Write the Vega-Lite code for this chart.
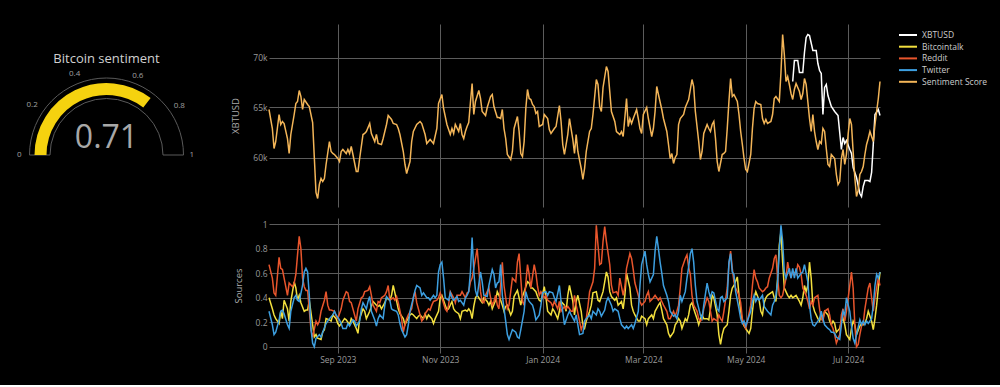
{
"$schema": "https://vega.github.io/schema/vega-lite/v6.json",
"usermeta": {"embedOptions": {"actions": false}},
"background": "#000000",
"padding": {"left": 0, "top": 24, "right": 14, "bottom": 21},
"spacing": 17,
"datasets": {
"s": [{"d":"2023-07-22","v":64800},{"d":"2023-07-24","v":62900},{"d":"2023-07-25","v":60900},{"d":"2023-07-26","v":61600},{"d":"2023-07-28","v":64300},{"d":"2023-07-29","v":63300},{"d":"2023-07-30","v":63600},{"d":"2023-07-31","v":63400},{"d":"2023-08-02","v":61900},{"d":"2023-08-03","v":60400},{"d":"2023-08-04","v":62300},{"d":"2023-08-06","v":64300},{"d":"2023-08-07","v":65400},{"d":"2023-08-08","v":65600},{"d":"2023-08-09","v":66700},{"d":"2023-08-10","v":66100},{"d":"2023-08-11","v":64800},{"d":"2023-08-12","v":65800},{"d":"2023-08-14","v":65300},{"d":"2023-08-15","v":65100},{"d":"2023-08-17","v":63500},{"d":"2023-08-18","v":60000},{"d":"2023-08-19","v":56500},{"d":"2023-08-20","v":55900},{"d":"2023-08-21","v":57300},{"d":"2023-08-22","v":57900},{"d":"2023-08-23","v":57600},{"d":"2023-08-24","v":57900},{"d":"2023-08-25","v":59300},{"d":"2023-08-27","v":61600},{"d":"2023-08-28","v":60600},{"d":"2023-08-29","v":60400},{"d":"2023-08-30","v":60300},{"d":"2023-09-01","v":59900},{"d":"2023-09-02","v":59600},{"d":"2023-09-03","v":60600},{"d":"2023-09-04","v":60800},{"d":"2023-09-06","v":60400},{"d":"2023-09-07","v":60800},{"d":"2023-09-08","v":60400},{"d":"2023-09-09","v":61100},{"d":"2023-09-10","v":60300},{"d":"2023-09-12","v":58600},{"d":"2023-09-13","v":58600},{"d":"2023-09-14","v":59900},{"d":"2023-09-16","v":62300},{"d":"2023-09-17","v":62400},{"d":"2023-09-18","v":62600},{"d":"2023-09-20","v":63400},{"d":"2023-09-21","v":62400},{"d":"2023-09-23","v":61600},{"d":"2023-09-24","v":62300},{"d":"2023-09-25","v":61400},{"d":"2023-09-27","v":61300},{"d":"2023-09-28","v":61900},{"d":"2023-09-30","v":63300},{"d":"2023-10-01","v":64200},{"d":"2023-10-03","v":63800},{"d":"2023-10-04","v":63400},{"d":"2023-10-06","v":63300},{"d":"2023-10-07","v":62900},{"d":"2023-10-08","v":62300},{"d":"2023-10-10","v":60600},{"d":"2023-10-11","v":59300},{"d":"2023-10-12","v":58400},{"d":"2023-10-14","v":59600},{"d":"2023-10-15","v":61600},{"d":"2023-10-16","v":62600},{"d":"2023-10-18","v":63300},{"d":"2023-10-20","v":63600},{"d":"2023-10-21","v":63400},{"d":"2023-10-23","v":62300},{"d":"2023-10-24","v":61400},{"d":"2023-10-26","v":61800},{"d":"2023-10-27","v":61600},{"d":"2023-10-28","v":61400},{"d":"2023-10-30","v":62900},{"d":"2023-10-31","v":65400},{"d":"2023-11-02","v":66300},{"d":"2023-11-03","v":64900},{"d":"2023-11-05","v":63300},{"d":"2023-11-06","v":62800},{"d":"2023-11-07","v":62300},{"d":"2023-11-08","v":62900},{"d":"2023-11-09","v":62400},{"d":"2023-11-10","v":63300},{"d":"2023-11-12","v":62600},{"d":"2023-11-13","v":63400},{"d":"2023-11-14","v":62300},{"d":"2023-11-15","v":61900},{"d":"2023-11-16","v":62600},{"d":"2023-11-17","v":63100},{"d":"2023-11-18","v":63500},{"d":"2023-11-19","v":65500},{"d":"2023-11-20","v":67400},{"d":"2023-11-21","v":64300},{"d":"2023-11-22","v":65600},{"d":"2023-11-24","v":66700},{"d":"2023-11-25","v":65900},{"d":"2023-11-26","v":64600},{"d":"2023-11-28","v":64200},{"d":"2023-11-29","v":65000},{"d":"2023-12-01","v":66100},{"d":"2023-12-02","v":66300},{"d":"2023-12-03","v":65100},{"d":"2023-12-05","v":64000},{"d":"2023-12-06","v":64000},{"d":"2023-12-07","v":63900},{"d":"2023-12-08","v":64800},{"d":"2023-12-09","v":62900},{"d":"2023-12-10","v":61900},{"d":"2023-12-11","v":60300},{"d":"2023-12-13","v":59800},{"d":"2023-12-14","v":60600},{"d":"2023-12-15","v":62900},{"d":"2023-12-17","v":64100},{"d":"2023-12-18","v":62600},{"d":"2023-12-19","v":60400},{"d":"2023-12-20","v":60100},{"d":"2023-12-21","v":61600},{"d":"2023-12-22","v":64900},{"d":"2023-12-23","v":66800},{"d":"2023-12-24","v":65900},{"d":"2023-12-25","v":65800},{"d":"2023-12-26","v":65300},{"d":"2023-12-27","v":65100},{"d":"2023-12-28","v":64400},{"d":"2023-12-29","v":64600},{"d":"2023-12-30","v":63100},{"d":"2024-01-01","v":63300},{"d":"2024-01-02","v":64300},{"d":"2024-01-04","v":63900},{"d":"2024-01-05","v":62800},{"d":"2024-01-06","v":62400},{"d":"2024-01-08","v":62900},{"d":"2024-01-09","v":63100},{"d":"2024-01-11","v":65200},{"d":"2024-01-12","v":63600},{"d":"2024-01-13","v":61300},{"d":"2024-01-14","v":60300},{"d":"2024-01-16","v":62300},{"d":"2024-01-17","v":63900},{"d":"2024-01-19","v":61800},{"d":"2024-01-20","v":60400},{"d":"2024-01-21","v":62300},{"d":"2024-01-22","v":60600},{"d":"2024-01-24","v":58900},{"d":"2024-01-25","v":57800},{"d":"2024-01-26","v":58900},{"d":"2024-01-27","v":60600},{"d":"2024-01-29","v":62600},{"d":"2024-01-30","v":62900},{"d":"2024-01-31","v":64300},{"d":"2024-02-02","v":67800},{"d":"2024-02-03","v":67300},{"d":"2024-02-04","v":65100},{"d":"2024-02-05","v":64600},{"d":"2024-02-06","v":67000},{"d":"2024-02-08","v":69100},{"d":"2024-02-09","v":68600},{"d":"2024-02-10","v":66600},{"d":"2024-02-11","v":64600},{"d":"2024-02-13","v":63600},{"d":"2024-02-14","v":62600},{"d":"2024-02-16","v":62300},{"d":"2024-02-17","v":62600},{"d":"2024-02-18","v":62100},{"d":"2024-02-20","v":65900},{"d":"2024-02-21","v":63100},{"d":"2024-02-22","v":63900},{"d":"2024-02-23","v":63400},{"d":"2024-02-24","v":63900},{"d":"2024-02-26","v":64800},{"d":"2024-02-27","v":63900},{"d":"2024-02-28","v":62900},{"d":"2024-02-29","v":62400},{"d":"2024-03-01","v":64300},{"d":"2024-03-03","v":65000},{"d":"2024-03-04","v":63900},{"d":"2024-03-06","v":62100},{"d":"2024-03-07","v":62900},{"d":"2024-03-08","v":64600},{"d":"2024-03-09","v":67100},{"d":"2024-03-10","v":66300},{"d":"2024-03-12","v":64800},{"d":"2024-03-13","v":63900},{"d":"2024-03-15","v":62600},{"d":"2024-03-16","v":61300},{"d":"2024-03-17","v":59900},{"d":"2024-03-18","v":60400},{"d":"2024-03-19","v":59400},{"d":"2024-03-20","v":60000},{"d":"2024-03-21","v":60300},{"d":"2024-03-22","v":63300},{"d":"2024-03-23","v":63900},{"d":"2024-03-25","v":64300},{"d":"2024-03-26","v":65000},{"d":"2024-03-27","v":65400},{"d":"2024-03-28","v":65800},{"d":"2024-03-29","v":66800},{"d":"2024-03-30","v":67800},{"d":"2024-03-31","v":67100},{"d":"2024-04-01","v":64600},{"d":"2024-04-03","v":61600},{"d":"2024-04-04","v":59800},{"d":"2024-04-05","v":60600},{"d":"2024-04-06","v":62400},{"d":"2024-04-08","v":63300},{"d":"2024-04-09","v":62900},{"d":"2024-04-10","v":62600},{"d":"2024-04-11","v":63300},{"d":"2024-04-12","v":63600},{"d":"2024-04-13","v":61900},{"d":"2024-04-14","v":59600},{"d":"2024-04-15","v":58600},{"d":"2024-04-17","v":60300},{"d":"2024-04-18","v":60400},{"d":"2024-04-19","v":60600},{"d":"2024-04-20","v":62900},{"d":"2024-04-21","v":65600},{"d":"2024-04-22","v":67900},{"d":"2024-04-23","v":66100},{"d":"2024-04-24","v":66300},{"d":"2024-04-26","v":65600},{"d":"2024-04-27","v":64300},{"d":"2024-04-28","v":62600},{"d":"2024-04-29","v":61300},{"d":"2024-04-30","v":59900},{"d":"2024-05-01","v":58800},{"d":"2024-05-02","v":58600},{"d":"2024-05-04","v":60300},{"d":"2024-05-05","v":62900},{"d":"2024-05-06","v":64900},{"d":"2024-05-07","v":65600},{"d":"2024-05-08","v":65400},{"d":"2024-05-10","v":65300},{"d":"2024-05-11","v":63900},{"d":"2024-05-12","v":63400},{"d":"2024-05-13","v":63800},{"d":"2024-05-14","v":63400},{"d":"2024-05-16","v":63600},{"d":"2024-05-17","v":64300},{"d":"2024-05-18","v":65900},{"d":"2024-05-19","v":66100},{"d":"2024-05-21","v":65600},{"d":"2024-05-22","v":68500},{"d":"2024-05-23","v":72300},{"d":"2024-05-24","v":70300},{"d":"2024-05-25","v":67600},{"d":"2024-05-26","v":68100},{"d":"2024-05-27","v":67300},{"d":"2024-05-28","v":66400},{"d":"2024-05-29","v":65800},{"d":"2024-05-30","v":66800},{"d":"2024-05-31","v":67400},{"d":"2024-06-02","v":66600},{"d":"2024-06-03","v":65800},{"d":"2024-06-04","v":66400},{"d":"2024-06-05","v":67900},{"d":"2024-06-06","v":67300},{"d":"2024-06-07","v":65600},{"d":"2024-06-08","v":63900},{"d":"2024-06-09","v":62600},{"d":"2024-06-10","v":64300},{"d":"2024-06-11","v":62600},{"d":"2024-06-12","v":61600},{"d":"2024-06-13","v":60800},{"d":"2024-06-14","v":61600},{"d":"2024-06-15","v":61400},{"d":"2024-06-16","v":62900},{"d":"2024-06-17","v":62600},{"d":"2024-06-18","v":60900},{"d":"2024-06-19","v":59300},{"d":"2024-06-20","v":59100},{"d":"2024-06-21","v":60300},{"d":"2024-06-23","v":59900},{"d":"2024-06-24","v":58300},{"d":"2024-06-25","v":57300},{"d":"2024-06-26","v":57600},{"d":"2024-06-27","v":59900},{"d":"2024-06-28","v":60800},{"d":"2024-06-29","v":59300},{"d":"2024-06-30","v":60300},{"d":"2024-07-01","v":62300},{"d":"2024-07-02","v":63900},{"d":"2024-07-03","v":63300},{"d":"2024-07-04","v":60600},{"d":"2024-07-05","v":58000},{"d":"2024-07-06","v":56100},{"d":"2024-07-07","v":56700},{"d":"2024-07-08","v":58300},{"d":"2024-07-09","v":58600},{"d":"2024-07-10","v":59100},{"d":"2024-07-11","v":60300},{"d":"2024-07-12","v":61300},{"d":"2024-07-13","v":61900},{"d":"2024-07-14","v":62600},{"d":"2024-07-15","v":62100},{"d":"2024-07-16","v":61600},{"d":"2024-07-17","v":63300},{"d":"2024-07-18","v":64600},{"d":"2024-07-19","v":65900},{"d":"2024-07-20","v":67600}],
"x": [{"d":"2024-05-29","v":67600},{"d":"2024-05-30","v":69700},{"d":"2024-06-01","v":69700},{"d":"2024-06-02","v":68500},{"d":"2024-06-04","v":68500},{"d":"2024-06-05","v":70500},{"d":"2024-06-06","v":72000},{"d":"2024-06-07","v":72300},{"d":"2024-06-08","v":72200},{"d":"2024-06-10","v":70700},{"d":"2024-06-12","v":70700},{"d":"2024-06-13","v":69400},{"d":"2024-06-14","v":68700},{"d":"2024-06-15","v":68400},{"d":"2024-06-16","v":64300},{"d":"2024-06-17","v":67000},{"d":"2024-06-18","v":67300},{"d":"2024-06-19","v":66200},{"d":"2024-06-21","v":65100},{"d":"2024-06-23","v":64600},{"d":"2024-06-25","v":64200},{"d":"2024-06-26","v":62500},{"d":"2024-06-27","v":60800},{"d":"2024-06-28","v":62000},{"d":"2024-06-29","v":61400},{"d":"2024-06-30","v":61700},{"d":"2024-07-02","v":60800},{"d":"2024-07-03","v":60400},{"d":"2024-07-04","v":59000},{"d":"2024-07-06","v":58000},{"d":"2024-07-08","v":56400},{"d":"2024-07-09","v":56100},{"d":"2024-07-10","v":57100},{"d":"2024-07-11","v":57700},{"d":"2024-07-13","v":57700},{"d":"2024-07-14","v":57600},{"d":"2024-07-15","v":58500},{"d":"2024-07-16","v":61300},{"d":"2024-07-17","v":64300},{"d":"2024-07-19","v":64800},{"d":"2024-07-20","v":64200}],
"r": [{"d":"2023-07-22","v":0.67},{"d":"2023-07-24","v":0.56},{"d":"2023-07-25","v":0.44},{"d":"2023-07-26","v":0.42},{"d":"2023-07-28","v":0.73},{"d":"2023-07-29","v":0.64},{"d":"2023-07-30","v":0.63},{"d":"2023-07-31","v":0.56},{"d":"2023-08-02","v":0.42},{"d":"2023-08-03","v":0.52},{"d":"2023-08-05","v":0.49},{"d":"2023-08-06","v":0.52},{"d":"2023-08-07","v":0.59},{"d":"2023-08-08","v":0.75},{"d":"2023-08-09","v":0.9},{"d":"2023-08-10","v":0.8},{"d":"2023-08-11","v":0.56},{"d":"2023-08-12","v":0.49},{"d":"2023-08-13","v":0.46},{"d":"2023-08-14","v":0.46},{"d":"2023-08-15","v":0.3},{"d":"2023-08-16","v":0.14},{"d":"2023-08-17","v":0.08},{"d":"2023-08-19","v":0.21},{"d":"2023-08-20","v":0.18},{"d":"2023-08-21","v":0.21},{"d":"2023-08-22","v":0.29},{"d":"2023-08-24","v":0.38},{"d":"2023-08-25","v":0.45},{"d":"2023-08-26","v":0.34},{"d":"2023-08-27","v":0.3},{"d":"2023-08-28","v":0.3},{"d":"2023-08-30","v":0.29},{"d":"2023-08-31","v":0.25},{"d":"2023-09-01","v":0.23},{"d":"2023-09-03","v":0.31},{"d":"2023-09-04","v":0.38},{"d":"2023-09-06","v":0.45},{"d":"2023-09-07","v":0.44},{"d":"2023-09-08","v":0.37},{"d":"2023-09-09","v":0.36},{"d":"2023-09-11","v":0.26},{"d":"2023-09-12","v":0.21},{"d":"2023-09-13","v":0.31},{"d":"2023-09-15","v":0.4},{"d":"2023-09-16","v":0.41},{"d":"2023-09-17","v":0.45},{"d":"2023-09-19","v":0.46},{"d":"2023-09-20","v":0.49},{"d":"2023-09-21","v":0.42},{"d":"2023-09-22","v":0.34},{"d":"2023-09-24","v":0.29},{"d":"2023-09-25","v":0.37},{"d":"2023-09-26","v":0.36},{"d":"2023-09-27","v":0.4},{"d":"2023-09-29","v":0.42},{"d":"2023-09-30","v":0.45},{"d":"2023-10-01","v":0.5},{"d":"2023-10-02","v":0.38},{"d":"2023-10-04","v":0.4},{"d":"2023-10-05","v":0.38},{"d":"2023-10-06","v":0.41},{"d":"2023-10-07","v":0.36},{"d":"2023-10-09","v":0.23},{"d":"2023-10-10","v":0.12},{"d":"2023-10-11","v":0.18},{"d":"2023-10-12","v":0.23},{"d":"2023-10-13","v":0.26},{"d":"2023-10-15","v":0.31},{"d":"2023-10-16","v":0.4},{"d":"2023-10-17","v":0.45},{"d":"2023-10-18","v":0.36},{"d":"2023-10-20","v":0.26},{"d":"2023-10-21","v":0.21},{"d":"2023-10-22","v":0.23},{"d":"2023-10-23","v":0.27},{"d":"2023-10-25","v":0.31},{"d":"2023-10-26","v":0.3},{"d":"2023-10-27","v":0.34},{"d":"2023-10-28","v":0.37},{"d":"2023-10-30","v":0.38},{"d":"2023-10-31","v":0.4},{"d":"2023-11-01","v":0.44},{"d":"2023-11-02","v":0.4},{"d":"2023-11-04","v":0.31},{"d":"2023-11-05","v":0.29},{"d":"2023-11-06","v":0.34},{"d":"2023-11-07","v":0.45},{"d":"2023-11-09","v":0.4},{"d":"2023-11-10","v":0.36},{"d":"2023-11-11","v":0.42},{"d":"2023-11-13","v":0.42},{"d":"2023-11-14","v":0.45},{"d":"2023-11-16","v":0.4},{"d":"2023-11-17","v":0.44},{"d":"2023-11-18","v":0.45},{"d":"2023-11-19","v":0.53},{"d":"2023-11-20","v":0.56},{"d":"2023-11-21","v":0.64},{"d":"2023-11-23","v":0.8},{"d":"2023-11-24","v":0.64},{"d":"2023-11-25","v":0.45},{"d":"2023-11-26","v":0.37},{"d":"2023-11-27","v":0.36},{"d":"2023-11-28","v":0.42},{"d":"2023-11-30","v":0.48},{"d":"2023-12-01","v":0.4},{"d":"2023-12-02","v":0.34},{"d":"2023-12-03","v":0.37},{"d":"2023-12-04","v":0.42},{"d":"2023-12-05","v":0.34},{"d":"2023-12-06","v":0.31},{"d":"2023-12-08","v":0.69},{"d":"2023-12-09","v":0.5},{"d":"2023-12-10","v":0.4},{"d":"2023-12-11","v":0.31},{"d":"2023-12-12","v":0.34},{"d":"2023-12-13","v":0.45},{"d":"2023-12-14","v":0.56},{"d":"2023-12-16","v":0.53},{"d":"2023-12-17","v":0.69},{"d":"2023-12-18","v":0.76},{"d":"2023-12-19","v":0.56},{"d":"2023-12-20","v":0.37},{"d":"2023-12-21","v":0.34},{"d":"2023-12-22","v":0.52},{"d":"2023-12-23","v":0.67},{"d":"2023-12-24","v":0.59},{"d":"2023-12-25","v":0.48},{"d":"2023-12-27","v":0.67},{"d":"2023-12-28","v":0.6},{"d":"2023-12-29","v":0.49},{"d":"2023-12-30","v":0.42},{"d":"2023-12-31","v":0.45},{"d":"2024-01-02","v":0.4},{"d":"2024-01-03","v":0.42},{"d":"2024-01-04","v":0.38},{"d":"2024-01-06","v":0.36},{"d":"2024-01-07","v":0.33},{"d":"2024-01-08","v":0.37},{"d":"2024-01-10","v":0.31},{"d":"2024-01-11","v":0.37},{"d":"2024-01-12","v":0.29},{"d":"2024-01-14","v":0.33},{"d":"2024-01-15","v":0.31},{"d":"2024-01-16","v":0.33},{"d":"2024-01-18","v":0.29},{"d":"2024-01-19","v":0.29},{"d":"2024-01-20","v":0.42},{"d":"2024-01-21","v":0.34},{"d":"2024-01-23","v":0.21},{"d":"2024-01-24","v":0.14},{"d":"2024-01-25","v":0.18},{"d":"2024-01-27","v":0.23},{"d":"2024-01-28","v":0.33},{"d":"2024-01-29","v":0.45},{"d":"2024-01-31","v":0.53},{"d":"2024-02-01","v":0.64},{"d":"2024-02-02","v":0.99},{"d":"2024-02-03","v":0.83},{"d":"2024-02-04","v":0.67},{"d":"2024-02-05","v":0.68},{"d":"2024-02-06","v":0.86},{"d":"2024-02-07","v":0.98},{"d":"2024-02-08","v":0.86},{"d":"2024-02-10","v":0.67},{"d":"2024-02-11","v":0.5},{"d":"2024-02-12","v":0.44},{"d":"2024-02-14","v":0.45},{"d":"2024-02-15","v":0.42},{"d":"2024-02-16","v":0.56},{"d":"2024-02-18","v":0.42},{"d":"2024-02-19","v":0.49},{"d":"2024-02-20","v":0.64},{"d":"2024-02-22","v":0.76},{"d":"2024-02-23","v":0.72},{"d":"2024-02-24","v":0.63},{"d":"2024-02-25","v":0.52},{"d":"2024-02-27","v":0.42},{"d":"2024-02-28","v":0.37},{"d":"2024-02-29","v":0.34},{"d":"2024-03-02","v":0.37},{"d":"2024-03-03","v":0.42},{"d":"2024-03-04","v":0.45},{"d":"2024-03-05","v":0.37},{"d":"2024-03-07","v":0.4},{"d":"2024-03-08","v":0.42},{"d":"2024-03-10","v":0.38},{"d":"2024-03-11","v":0.4},{"d":"2024-03-12","v":0.37},{"d":"2024-03-13","v":0.34},{"d":"2024-03-15","v":0.29},{"d":"2024-03-16","v":0.23},{"d":"2024-03-17","v":0.23},{"d":"2024-03-19","v":0.29},{"d":"2024-03-20","v":0.25},{"d":"2024-03-21","v":0.29},{"d":"2024-03-22","v":0.34},{"d":"2024-03-23","v":0.48},{"d":"2024-03-24","v":0.64},{"d":"2024-03-26","v":0.72},{"d":"2024-03-27","v":0.75},{"d":"2024-03-28","v":0.65},{"d":"2024-03-29","v":0.59},{"d":"2024-03-30","v":0.42},{"d":"2024-03-31","v":0.34},{"d":"2024-04-02","v":0.29},{"d":"2024-04-03","v":0.23},{"d":"2024-04-04","v":0.21},{"d":"2024-04-05","v":0.23},{"d":"2024-04-06","v":0.31},{"d":"2024-04-08","v":0.4},{"d":"2024-04-09","v":0.37},{"d":"2024-04-10","v":0.29},{"d":"2024-04-11","v":0.21},{"d":"2024-04-12","v":0.23},{"d":"2024-04-14","v":0.21},{"d":"2024-04-15","v":0.26},{"d":"2024-04-16","v":0.23},{"d":"2024-04-17","v":0.21},{"d":"2024-04-18","v":0.29},{"d":"2024-04-20","v":0.48},{"d":"2024-04-21","v":0.67},{"d":"2024-04-22","v":0.78},{"d":"2024-04-23","v":0.64},{"d":"2024-04-24","v":0.53},{"d":"2024-04-25","v":0.48},{"d":"2024-04-27","v":0.42},{"d":"2024-04-28","v":0.36},{"d":"2024-04-29","v":0.23},{"d":"2024-04-30","v":0.18},{"d":"2024-05-01","v":0.15},{"d":"2024-05-02","v":0.21},{"d":"2024-05-04","v":0.34},{"d":"2024-05-05","v":0.5},{"d":"2024-05-06","v":0.63},{"d":"2024-05-07","v":0.56},{"d":"2024-05-08","v":0.53},{"d":"2024-05-09","v":0.48},{"d":"2024-05-11","v":0.45},{"d":"2024-05-12","v":0.46},{"d":"2024-05-13","v":0.48},{"d":"2024-05-14","v":0.49},{"d":"2024-05-15","v":0.56},{"d":"2024-05-17","v":0.64},{"d":"2024-05-18","v":0.72},{"d":"2024-05-19","v":0.75},{"d":"2024-05-20","v":0.56},{"d":"2024-05-21","v":0.42},{"d":"2024-05-22","v":0.4},{"d":"2024-05-23","v":0.42},{"d":"2024-05-25","v":0.56},{"d":"2024-05-26","v":0.69},{"d":"2024-05-27","v":0.61},{"d":"2024-05-28","v":0.56},{"d":"2024-05-29","v":0.62},{"d":"2024-05-31","v":0.59},{"d":"2024-06-01","v":0.67},{"d":"2024-06-02","v":0.65},{"d":"2024-06-03","v":0.59},{"d":"2024-06-04","v":0.48},{"d":"2024-06-06","v":0.42},{"d":"2024-06-07","v":0.37},{"d":"2024-06-08","v":0.31},{"d":"2024-06-09","v":0.37},{"d":"2024-06-10","v":0.34},{"d":"2024-06-11","v":0.4},{"d":"2024-06-13","v":0.42},{"d":"2024-06-14","v":0.31},{"d":"2024-06-15","v":0.23},{"d":"2024-06-16","v":0.21},{"d":"2024-06-17","v":0.29},{"d":"2024-06-19","v":0.31},{"d":"2024-06-20","v":0.26},{"d":"2024-06-21","v":0.18},{"d":"2024-06-22","v":0.15},{"d":"2024-06-23","v":0.1},{"d":"2024-06-24","v":0.03},{"d":"2024-06-26","v":0.1},{"d":"2024-06-27","v":0.26},{"d":"2024-06-28","v":0.31},{"d":"2024-06-29","v":0.21},{"d":"2024-06-30","v":0.29},{"d":"2024-07-02","v":0.5},{"d":"2024-07-03","v":0.61},{"d":"2024-07-04","v":0.48},{"d":"2024-07-05","v":0.18},{"d":"2024-07-06","v":0.0},{"d":"2024-07-07","v":0.02},{"d":"2024-07-08","v":0.1},{"d":"2024-07-09","v":0.17},{"d":"2024-07-10","v":0.19},{"d":"2024-07-11","v":0.31},{"d":"2024-07-13","v":0.48},{"d":"2024-07-14","v":0.52},{"d":"2024-07-15","v":0.4},{"d":"2024-07-16","v":0.29},{"d":"2024-07-17","v":0.4},{"d":"2024-07-18","v":0.48},{"d":"2024-07-19","v":0.56},{"d":"2024-07-20","v":0.5}],
"t": [{"d":"2023-07-22","v":0.29},{"d":"2023-07-24","v":0.18},{"d":"2023-07-25","v":0.1},{"d":"2023-07-26","v":0.12},{"d":"2023-07-28","v":0.22},{"d":"2023-07-29","v":0.29},{"d":"2023-07-30","v":0.3},{"d":"2023-07-31","v":0.27},{"d":"2023-08-02","v":0.18},{"d":"2023-08-03","v":0.15},{"d":"2023-08-04","v":0.29},{"d":"2023-08-06","v":0.4},{"d":"2023-08-07","v":0.42},{"d":"2023-08-08","v":0.38},{"d":"2023-08-09","v":0.37},{"d":"2023-08-11","v":0.5},{"d":"2023-08-12","v":0.61},{"d":"2023-08-13","v":0.64},{"d":"2023-08-14","v":0.61},{"d":"2023-08-15","v":0.42},{"d":"2023-08-16","v":0.15},{"d":"2023-08-17","v":0.03},{"d":"2023-08-18","v":0.0},{"d":"2023-08-19","v":0.07},{"d":"2023-08-21","v":0.1},{"d":"2023-08-22","v":0.08},{"d":"2023-08-23","v":0.12},{"d":"2023-08-25","v":0.19},{"d":"2023-08-26","v":0.21},{"d":"2023-08-27","v":0.23},{"d":"2023-08-29","v":0.26},{"d":"2023-08-30","v":0.29},{"d":"2023-08-31","v":0.26},{"d":"2023-09-02","v":0.22},{"d":"2023-09-03","v":0.19},{"d":"2023-09-04","v":0.15},{"d":"2023-09-06","v":0.15},{"d":"2023-09-07","v":0.19},{"d":"2023-09-08","v":0.17},{"d":"2023-09-10","v":0.22},{"d":"2023-09-11","v":0.21},{"d":"2023-09-12","v":0.17},{"d":"2023-09-14","v":0.21},{"d":"2023-09-15","v":0.31},{"d":"2023-09-16","v":0.36},{"d":"2023-09-18","v":0.31},{"d":"2023-09-19","v":0.37},{"d":"2023-09-20","v":0.41},{"d":"2023-09-21","v":0.29},{"d":"2023-09-23","v":0.22},{"d":"2023-09-24","v":0.17},{"d":"2023-09-25","v":0.23},{"d":"2023-09-26","v":0.26},{"d":"2023-09-28","v":0.23},{"d":"2023-09-29","v":0.34},{"d":"2023-09-30","v":0.41},{"d":"2023-10-02","v":0.38},{"d":"2023-10-03","v":0.31},{"d":"2023-10-04","v":0.3},{"d":"2023-10-06","v":0.29},{"d":"2023-10-07","v":0.26},{"d":"2023-10-08","v":0.19},{"d":"2023-10-09","v":0.14},{"d":"2023-10-11","v":0.08},{"d":"2023-10-12","v":0.1},{"d":"2023-10-13","v":0.18},{"d":"2023-10-14","v":0.29},{"d":"2023-10-16","v":0.4},{"d":"2023-10-17","v":0.46},{"d":"2023-10-18","v":0.5},{"d":"2023-10-20","v":0.48},{"d":"2023-10-21","v":0.42},{"d":"2023-10-22","v":0.44},{"d":"2023-10-24","v":0.4},{"d":"2023-10-25","v":0.4},{"d":"2023-10-26","v":0.38},{"d":"2023-10-28","v":0.42},{"d":"2023-10-29","v":0.4},{"d":"2023-10-30","v":0.42},{"d":"2023-10-31","v":0.61},{"d":"2023-11-01","v":0.67},{"d":"2023-11-02","v":0.69},{"d":"2023-11-03","v":0.56},{"d":"2023-11-04","v":0.4},{"d":"2023-11-06","v":0.38},{"d":"2023-11-07","v":0.44},{"d":"2023-11-08","v":0.4},{"d":"2023-11-09","v":0.38},{"d":"2023-11-11","v":0.41},{"d":"2023-11-12","v":0.37},{"d":"2023-11-13","v":0.38},{"d":"2023-11-15","v":0.34},{"d":"2023-11-16","v":0.4},{"d":"2023-11-17","v":0.42},{"d":"2023-11-18","v":0.45},{"d":"2023-11-19","v":0.61},{"d":"2023-11-20","v":0.89},{"d":"2023-11-21","v":0.61},{"d":"2023-11-22","v":0.46},{"d":"2023-11-23","v":0.41},{"d":"2023-11-25","v":0.61},{"d":"2023-11-26","v":0.53},{"d":"2023-11-27","v":0.42},{"d":"2023-11-29","v":0.41},{"d":"2023-11-30","v":0.5},{"d":"2023-12-02","v":0.63},{"d":"2023-12-03","v":0.59},{"d":"2023-12-04","v":0.48},{"d":"2023-12-05","v":0.52},{"d":"2023-12-06","v":0.53},{"d":"2023-12-07","v":0.67},{"d":"2023-12-08","v":0.42},{"d":"2023-12-10","v":0.21},{"d":"2023-12-11","v":0.1},{"d":"2023-12-12","v":0.06},{"d":"2023-12-13","v":0.1},{"d":"2023-12-14","v":0.14},{"d":"2023-12-16","v":0.12},{"d":"2023-12-17","v":0.08},{"d":"2023-12-18","v":0.07},{"d":"2023-12-19","v":0.14},{"d":"2023-12-21","v":0.29},{"d":"2023-12-22","v":0.45},{"d":"2023-12-23","v":0.4},{"d":"2023-12-24","v":0.37},{"d":"2023-12-26","v":0.34},{"d":"2023-12-27","v":0.29},{"d":"2023-12-28","v":0.22},{"d":"2023-12-30","v":0.26},{"d":"2023-12-31","v":0.34},{"d":"2024-01-01","v":0.44},{"d":"2024-01-03","v":0.45},{"d":"2024-01-04","v":0.42},{"d":"2024-01-05","v":0.45},{"d":"2024-01-07","v":0.44},{"d":"2024-01-08","v":0.4},{"d":"2024-01-09","v":0.37},{"d":"2024-01-11","v":0.5},{"d":"2024-01-12","v":0.37},{"d":"2024-01-13","v":0.29},{"d":"2024-01-14","v":0.18},{"d":"2024-01-16","v":0.26},{"d":"2024-01-17","v":0.29},{"d":"2024-01-18","v":0.26},{"d":"2024-01-20","v":0.21},{"d":"2024-01-21","v":0.26},{"d":"2024-01-22","v":0.18},{"d":"2024-01-23","v":0.1},{"d":"2024-01-25","v":0.11},{"d":"2024-01-26","v":0.21},{"d":"2024-01-27","v":0.23},{"d":"2024-01-29","v":0.26},{"d":"2024-01-30","v":0.23},{"d":"2024-01-31","v":0.29},{"d":"2024-02-02","v":0.26},{"d":"2024-02-03","v":0.31},{"d":"2024-02-04","v":0.29},{"d":"2024-02-05","v":0.25},{"d":"2024-02-07","v":0.3},{"d":"2024-02-08","v":0.37},{"d":"2024-02-09","v":0.4},{"d":"2024-02-11","v":0.34},{"d":"2024-02-12","v":0.29},{"d":"2024-02-13","v":0.31},{"d":"2024-02-15","v":0.29},{"d":"2024-02-16","v":0.23},{"d":"2024-02-17","v":0.18},{"d":"2024-02-19","v":0.15},{"d":"2024-02-20","v":0.17},{"d":"2024-02-21","v":0.15},{"d":"2024-02-23","v":0.18},{"d":"2024-02-24","v":0.15},{"d":"2024-02-25","v":0.19},{"d":"2024-02-27","v":0.29},{"d":"2024-02-28","v":0.5},{"d":"2024-02-29","v":0.67},{"d":"2024-03-02","v":0.78},{"d":"2024-03-03","v":0.67},{"d":"2024-03-04","v":0.59},{"d":"2024-03-05","v":0.53},{"d":"2024-03-07","v":0.59},{"d":"2024-03-08","v":0.78},{"d":"2024-03-09","v":0.9},{"d":"2024-03-10","v":0.8},{"d":"2024-03-11","v":0.69},{"d":"2024-03-12","v":0.6},{"d":"2024-03-13","v":0.5},{"d":"2024-03-15","v":0.42},{"d":"2024-03-16","v":0.37},{"d":"2024-03-17","v":0.29},{"d":"2024-03-19","v":0.25},{"d":"2024-03-20","v":0.26},{"d":"2024-03-21","v":0.23},{"d":"2024-03-22","v":0.29},{"d":"2024-03-23","v":0.42},{"d":"2024-03-24","v":0.37},{"d":"2024-03-26","v":0.45},{"d":"2024-03-27","v":0.56},{"d":"2024-03-28","v":0.65},{"d":"2024-03-29","v":0.76},{"d":"2024-03-30","v":0.8},{"d":"2024-03-31","v":0.69},{"d":"2024-04-01","v":0.5},{"d":"2024-04-02","v":0.37},{"d":"2024-04-04","v":0.26},{"d":"2024-04-05","v":0.23},{"d":"2024-04-06","v":0.34},{"d":"2024-04-08","v":0.52},{"d":"2024-04-09","v":0.45},{"d":"2024-04-10","v":0.4},{"d":"2024-04-11","v":0.45},{"d":"2024-04-12","v":0.44},{"d":"2024-04-14","v":0.31},{"d":"2024-04-15","v":0.29},{"d":"2024-04-16","v":0.4},{"d":"2024-04-17","v":0.41},{"d":"2024-04-18","v":0.37},{"d":"2024-04-20","v":0.4},{"d":"2024-04-21","v":0.69},{"d":"2024-04-22","v":0.76},{"d":"2024-04-23","v":0.61},{"d":"2024-04-24","v":0.59},{"d":"2024-04-25","v":0.45},{"d":"2024-04-27","v":0.31},{"d":"2024-04-28","v":0.23},{"d":"2024-04-29","v":0.19},{"d":"2024-04-30","v":0.21},{"d":"2024-05-01","v":0.17},{"d":"2024-05-02","v":0.21},{"d":"2024-05-04","v":0.29},{"d":"2024-05-05","v":0.37},{"d":"2024-05-06","v":0.42},{"d":"2024-05-07","v":0.37},{"d":"2024-05-08","v":0.4},{"d":"2024-05-09","v":0.38},{"d":"2024-05-11","v":0.42},{"d":"2024-05-12","v":0.33},{"d":"2024-05-13","v":0.31},{"d":"2024-05-14","v":0.29},{"d":"2024-05-16","v":0.26},{"d":"2024-05-17","v":0.34},{"d":"2024-05-18","v":0.37},{"d":"2024-05-19","v":0.42},{"d":"2024-05-20","v":0.53},{"d":"2024-05-21","v":0.78},{"d":"2024-05-22","v":0.99},{"d":"2024-05-23","v":0.86},{"d":"2024-05-24","v":0.61},{"d":"2024-05-25","v":0.56},{"d":"2024-05-27","v":0.64},{"d":"2024-05-28","v":0.56},{"d":"2024-05-29","v":0.64},{"d":"2024-05-30","v":0.56},{"d":"2024-05-31","v":0.64},{"d":"2024-06-01","v":0.56},{"d":"2024-06-03","v":0.6},{"d":"2024-06-04","v":0.61},{"d":"2024-06-05","v":0.67},{"d":"2024-06-06","v":0.6},{"d":"2024-06-07","v":0.53},{"d":"2024-06-08","v":0.34},{"d":"2024-06-09","v":0.23},{"d":"2024-06-10","v":0.18},{"d":"2024-06-11","v":0.17},{"d":"2024-06-13","v":0.21},{"d":"2024-06-14","v":0.23},{"d":"2024-06-15","v":0.29},{"d":"2024-06-16","v":0.23},{"d":"2024-06-17","v":0.18},{"d":"2024-06-19","v":0.15},{"d":"2024-06-20","v":0.14},{"d":"2024-06-21","v":0.12},{"d":"2024-06-22","v":0.12},{"d":"2024-06-23","v":0.11},{"d":"2024-06-24","v":0.08},{"d":"2024-06-26","v":0.06},{"d":"2024-06-27","v":0.18},{"d":"2024-06-28","v":0.29},{"d":"2024-06-29","v":0.26},{"d":"2024-06-30","v":0.4},{"d":"2024-07-02","v":0.29},{"d":"2024-07-03","v":0.17},{"d":"2024-07-04","v":0.07},{"d":"2024-07-05","v":0.03},{"d":"2024-07-06","v":0.1},{"d":"2024-07-08","v":0.22},{"d":"2024-07-09","v":0.18},{"d":"2024-07-10","v":0.21},{"d":"2024-07-11","v":0.18},{"d":"2024-07-12","v":0.21},{"d":"2024-07-13","v":0.19},{"d":"2024-07-15","v":0.23},{"d":"2024-07-16","v":0.34},{"d":"2024-07-17","v":0.5},{"d":"2024-07-18","v":0.59},{"d":"2024-07-19","v":0.56},{"d":"2024-07-20","v":0.61}],
"b": [{"d":"2023-07-22","v":0.4},{"d":"2023-07-24","v":0.31},{"d":"2023-07-25","v":0.26},{"d":"2023-07-26","v":0.23},{"d":"2023-07-28","v":0.19},{"d":"2023-07-29","v":0.29},{"d":"2023-07-30","v":0.23},{"d":"2023-07-31","v":0.38},{"d":"2023-08-02","v":0.31},{"d":"2023-08-03","v":0.21},{"d":"2023-08-04","v":0.37},{"d":"2023-08-06","v":0.53},{"d":"2023-08-07","v":0.48},{"d":"2023-08-08","v":0.38},{"d":"2023-08-09","v":0.42},{"d":"2023-08-10","v":0.36},{"d":"2023-08-12","v":0.29},{"d":"2023-08-13","v":0.3},{"d":"2023-08-14","v":0.3},{"d":"2023-08-15","v":0.38},{"d":"2023-08-17","v":0.18},{"d":"2023-08-18","v":0.08},{"d":"2023-08-19","v":0.1},{"d":"2023-08-20","v":0.07},{"d":"2023-08-22","v":0.06},{"d":"2023-08-23","v":0.12},{"d":"2023-08-24","v":0.14},{"d":"2023-08-25","v":0.23},{"d":"2023-08-27","v":0.22},{"d":"2023-08-28","v":0.21},{"d":"2023-08-29","v":0.26},{"d":"2023-08-31","v":0.23},{"d":"2023-09-01","v":0.19},{"d":"2023-09-02","v":0.17},{"d":"2023-09-04","v":0.21},{"d":"2023-09-05","v":0.23},{"d":"2023-09-06","v":0.22},{"d":"2023-09-08","v":0.18},{"d":"2023-09-09","v":0.23},{"d":"2023-09-10","v":0.21},{"d":"2023-09-12","v":0.15},{"d":"2023-09-13","v":0.11},{"d":"2023-09-14","v":0.23},{"d":"2023-09-16","v":0.31},{"d":"2023-09-17","v":0.29},{"d":"2023-09-18","v":0.23},{"d":"2023-09-20","v":0.29},{"d":"2023-09-21","v":0.33},{"d":"2023-09-22","v":0.37},{"d":"2023-09-24","v":0.34},{"d":"2023-09-25","v":0.33},{"d":"2023-09-26","v":0.34},{"d":"2023-09-27","v":0.31},{"d":"2023-09-29","v":0.36},{"d":"2023-09-30","v":0.4},{"d":"2023-10-02","v":0.38},{"d":"2023-10-03","v":0.42},{"d":"2023-10-04","v":0.5},{"d":"2023-10-05","v":0.44},{"d":"2023-10-07","v":0.31},{"d":"2023-10-08","v":0.27},{"d":"2023-10-10","v":0.23},{"d":"2023-10-11","v":0.18},{"d":"2023-10-12","v":0.21},{"d":"2023-10-14","v":0.26},{"d":"2023-10-15","v":0.27},{"d":"2023-10-16","v":0.26},{"d":"2023-10-18","v":0.23},{"d":"2023-10-19","v":0.25},{"d":"2023-10-20","v":0.26},{"d":"2023-10-22","v":0.23},{"d":"2023-10-23","v":0.27},{"d":"2023-10-24","v":0.23},{"d":"2023-10-25","v":0.26},{"d":"2023-10-27","v":0.23},{"d":"2023-10-28","v":0.19},{"d":"2023-10-29","v":0.23},{"d":"2023-10-31","v":0.29},{"d":"2023-11-01","v":0.4},{"d":"2023-11-02","v":0.42},{"d":"2023-11-04","v":0.34},{"d":"2023-11-05","v":0.3},{"d":"2023-11-06","v":0.31},{"d":"2023-11-08","v":0.37},{"d":"2023-11-09","v":0.31},{"d":"2023-11-10","v":0.29},{"d":"2023-11-12","v":0.27},{"d":"2023-11-13","v":0.23},{"d":"2023-11-14","v":0.29},{"d":"2023-11-16","v":0.3},{"d":"2023-11-17","v":0.29},{"d":"2023-11-18","v":0.31},{"d":"2023-11-19","v":0.29},{"d":"2023-11-20","v":0.23},{"d":"2023-11-21","v":0.33},{"d":"2023-11-22","v":0.4},{"d":"2023-11-23","v":0.42},{"d":"2023-11-25","v":0.38},{"d":"2023-11-26","v":0.36},{"d":"2023-11-27","v":0.4},{"d":"2023-11-29","v":0.37},{"d":"2023-11-30","v":0.34},{"d":"2023-12-01","v":0.37},{"d":"2023-12-02","v":0.31},{"d":"2023-12-04","v":0.38},{"d":"2023-12-05","v":0.45},{"d":"2023-12-06","v":0.42},{"d":"2023-12-08","v":0.34},{"d":"2023-12-09","v":0.29},{"d":"2023-12-10","v":0.33},{"d":"2023-12-11","v":0.34},{"d":"2023-12-13","v":0.26},{"d":"2023-12-14","v":0.29},{"d":"2023-12-15","v":0.41},{"d":"2023-12-17","v":0.46},{"d":"2023-12-18","v":0.4},{"d":"2023-12-19","v":0.34},{"d":"2023-12-20","v":0.41},{"d":"2023-12-21","v":0.45},{"d":"2023-12-23","v":0.53},{"d":"2023-12-24","v":0.52},{"d":"2023-12-25","v":0.48},{"d":"2023-12-26","v":0.48},{"d":"2023-12-28","v":0.45},{"d":"2023-12-29","v":0.41},{"d":"2023-12-30","v":0.38},{"d":"2023-12-31","v":0.37},{"d":"2024-01-02","v":0.49},{"d":"2024-01-03","v":0.4},{"d":"2024-01-04","v":0.29},{"d":"2024-01-06","v":0.26},{"d":"2024-01-07","v":0.31},{"d":"2024-01-08","v":0.29},{"d":"2024-01-10","v":0.23},{"d":"2024-01-11","v":0.29},{"d":"2024-01-12","v":0.37},{"d":"2024-01-14","v":0.34},{"d":"2024-01-15","v":0.29},{"d":"2024-01-16","v":0.42},{"d":"2024-01-17","v":0.5},{"d":"2024-01-19","v":0.37},{"d":"2024-01-20","v":0.26},{"d":"2024-01-21","v":0.37},{"d":"2024-01-22","v":0.42},{"d":"2024-01-24","v":0.29},{"d":"2024-01-25","v":0.17},{"d":"2024-01-26","v":0.15},{"d":"2024-01-27","v":0.21},{"d":"2024-01-29","v":0.29},{"d":"2024-01-30","v":0.34},{"d":"2024-01-31","v":0.44},{"d":"2024-02-02","v":0.45},{"d":"2024-02-03","v":0.38},{"d":"2024-02-04","v":0.37},{"d":"2024-02-06","v":0.45},{"d":"2024-02-07","v":0.53},{"d":"2024-02-08","v":0.61},{"d":"2024-02-09","v":0.57},{"d":"2024-02-10","v":0.45},{"d":"2024-02-11","v":0.41},{"d":"2024-02-13","v":0.38},{"d":"2024-02-14","v":0.4},{"d":"2024-02-15","v":0.34},{"d":"2024-02-17","v":0.37},{"d":"2024-02-18","v":0.31},{"d":"2024-02-19","v":0.42},{"d":"2024-02-20","v":0.6},{"d":"2024-02-22","v":0.48},{"d":"2024-02-23","v":0.34},{"d":"2024-02-24","v":0.29},{"d":"2024-02-25","v":0.26},{"d":"2024-02-27","v":0.21},{"d":"2024-02-28","v":0.21},{"d":"2024-02-29","v":0.25},{"d":"2024-03-02","v":0.23},{"d":"2024-03-03","v":0.18},{"d":"2024-03-04","v":0.23},{"d":"2024-03-06","v":0.26},{"d":"2024-03-07","v":0.23},{"d":"2024-03-08","v":0.29},{"d":"2024-03-10","v":0.34},{"d":"2024-03-11","v":0.36},{"d":"2024-03-12","v":0.3},{"d":"2024-03-13","v":0.23},{"d":"2024-03-15","v":0.18},{"d":"2024-03-16","v":0.11},{"d":"2024-03-17","v":0.08},{"d":"2024-03-19","v":0.12},{"d":"2024-03-20","v":0.18},{"d":"2024-03-21","v":0.2},{"d":"2024-03-22","v":0.23},{"d":"2024-03-23","v":0.21},{"d":"2024-03-24","v":0.15},{"d":"2024-03-26","v":0.23},{"d":"2024-03-27","v":0.21},{"d":"2024-03-28","v":0.26},{"d":"2024-03-29","v":0.34},{"d":"2024-03-30","v":0.36},{"d":"2024-03-31","v":0.31},{"d":"2024-04-02","v":0.23},{"d":"2024-04-03","v":0.18},{"d":"2024-04-04","v":0.23},{"d":"2024-04-05","v":0.26},{"d":"2024-04-06","v":0.23},{"d":"2024-04-08","v":0.23},{"d":"2024-04-09","v":0.22},{"d":"2024-04-10","v":0.31},{"d":"2024-04-11","v":0.42},{"d":"2024-04-12","v":0.4},{"d":"2024-04-14","v":0.26},{"d":"2024-04-15","v":0.1},{"d":"2024-04-16","v":0.02},{"d":"2024-04-17","v":0.1},{"d":"2024-04-18","v":0.15},{"d":"2024-04-20","v":0.18},{"d":"2024-04-21","v":0.29},{"d":"2024-04-22","v":0.42},{"d":"2024-04-23","v":0.48},{"d":"2024-04-24","v":0.5},{"d":"2024-04-26","v":0.57},{"d":"2024-04-27","v":0.42},{"d":"2024-04-28","v":0.29},{"d":"2024-04-29","v":0.21},{"d":"2024-04-30","v":0.17},{"d":"2024-05-01","v":0.15},{"d":"2024-05-03","v":0.11},{"d":"2024-05-04","v":0.15},{"d":"2024-05-05","v":0.29},{"d":"2024-05-06","v":0.4},{"d":"2024-05-07","v":0.45},{"d":"2024-05-09","v":0.38},{"d":"2024-05-10","v":0.29},{"d":"2024-05-11","v":0.26},{"d":"2024-05-12","v":0.36},{"d":"2024-05-13","v":0.4},{"d":"2024-05-14","v":0.42},{"d":"2024-05-16","v":0.44},{"d":"2024-05-17","v":0.45},{"d":"2024-05-18","v":0.4},{"d":"2024-05-19","v":0.37},{"d":"2024-05-20","v":0.56},{"d":"2024-05-21","v":0.83},{"d":"2024-05-22","v":0.94},{"d":"2024-05-23","v":0.69},{"d":"2024-05-24","v":0.48},{"d":"2024-05-26","v":0.42},{"d":"2024-05-27","v":0.4},{"d":"2024-05-28","v":0.42},{"d":"2024-05-29","v":0.4},{"d":"2024-05-30","v":0.41},{"d":"2024-05-31","v":0.42},{"d":"2024-06-02","v":0.37},{"d":"2024-06-03","v":0.34},{"d":"2024-06-04","v":0.4},{"d":"2024-06-05","v":0.5},{"d":"2024-06-06","v":0.45},{"d":"2024-06-07","v":0.5},{"d":"2024-06-08","v":0.69},{"d":"2024-06-09","v":0.56},{"d":"2024-06-10","v":0.34},{"d":"2024-06-11","v":0.29},{"d":"2024-06-13","v":0.23},{"d":"2024-06-14","v":0.21},{"d":"2024-06-15","v":0.26},{"d":"2024-06-16","v":0.23},{"d":"2024-06-17","v":0.29},{"d":"2024-06-19","v":0.26},{"d":"2024-06-20","v":0.21},{"d":"2024-06-21","v":0.18},{"d":"2024-06-22","v":0.21},{"d":"2024-06-23","v":0.19},{"d":"2024-06-24","v":0.12},{"d":"2024-06-26","v":0.15},{"d":"2024-06-27","v":0.21},{"d":"2024-06-28","v":0.23},{"d":"2024-06-29","v":0.18},{"d":"2024-06-30","v":0.1},{"d":"2024-07-02","v":0.06},{"d":"2024-07-03","v":0.15},{"d":"2024-07-04","v":0.21},{"d":"2024-07-05","v":0.18},{"d":"2024-07-06","v":0.1},{"d":"2024-07-08","v":0.17},{"d":"2024-07-09","v":0.19},{"d":"2024-07-10","v":0.18},{"d":"2024-07-11","v":0.19},{"d":"2024-07-12","v":0.23},{"d":"2024-07-13","v":0.29},{"d":"2024-07-15","v":0.21},{"d":"2024-07-16","v":0.14},{"d":"2024-07-17","v":0.23},{"d":"2024-07-18","v":0.34},{"d":"2024-07-19","v":0.48},{"d":"2024-07-20","v":0.61}]
},
"hconcat": [
{
"width": 213,
"height": 262,
"layer": [
{"data": {"values": [{"lo": 0, "hi": 1}]},
 "mark": {"type": "arc", "outerRadius": 77, "innerRadius": 56.5, "fill": "#000000", "stroke": "#5a5a5a", "strokeWidth": 1},
 "encoding": {"theta": {"field": "lo", "type": "quantitative", "stack": false, "scale": {"domain": [0, 1], "range": [-1.5708, 1.5708]}}, "theta2": {"field": "hi"}}},
{"data": {"values": [{"lo": 0, "hi": 0.71}]},
 "mark": {"type": "arc", "outerRadius": 72, "innerRadius": 60, "fill": "#f5d20f"},
 "encoding": {"theta": {"field": "lo", "type": "quantitative", "stack": false}, "theta2": {"field": "hi"}}},
{"data": {"values": [{"t": 0, "l": "0"}, {"t": 0.2, "l": "0.2"}, {"t": 0.4, "l": "0.4"}]},
 "mark": {"type": "text", "radius": 85, "align": "right", "fontSize": 8, "fill": "#a0a0a0", "font": "Open Sans"},
 "encoding": {"theta": {"field": "t", "type": "quantitative", "stack": false}, "text": {"field": "l"}}},
{"data": {"values": [{"t": 0.6, "l": "0.6"}, {"t": 0.8, "l": "0.8"}, {"t": 1, "l": "1"}]},
 "mark": {"type": "text", "radius": 83, "align": "left", "fontSize": 8, "fill": "#a0a0a0", "font": "Open Sans"},
 "encoding": {"theta": {"field": "t", "type": "quantitative", "stack": false}, "text": {"field": "l"}}},
{"data": {"values": [{"title": "Bitcoin sentiment"}]},
 "mark": {"type": "text", "dy": -96, "fontSize": 13, "fill": "#d0d0d0", "font": "Open Sans"},
 "encoding": {"text": {"field": "title"}}},
{"data": {"values": [{"value": 0.71}]},
 "mark": {"type": "text", "dy": -7, "baseline": "alphabetic", "fontSize": 32, "fill": "#a8a8a8", "font": "Open Sans"},
 "encoding": {"text": {"field": "value", "type": "quantitative", "format": ".2f"}}}
]
},
{
"spacing": 11,
"vconcat": [
{
"width": 611,
"height": 183,
"layer": [
{"data": {"name": "x"},
 "mark": {"type": "line", "strokeWidth": 1.5},
 "encoding": {
  "x": {"field": "d", "type": "temporal", "scale": {"type": "utc", "domain": [{"year": 2023, "month": 7, "date": 22, "utc": true}, {"year": 2024, "month": 7, "date": 20, "utc": true}]},
        "axis": {"labels": false, "title": null, "grid": true, "tickCount": 20, "values": [{"year": 2023, "month": 9, "date": 1, "utc": true}, {"year": 2023, "month": 11, "date": 1, "utc": true}, {"year": 2024, "month": 1, "date": 1, "utc": true}, {"year": 2024, "month": 3, "date": 1, "utc": true}, {"year": 2024, "month": 5, "date": 1, "utc": true}, {"year": 2024, "month": 7, "date": 1, "utc": true}]}},
  "y": {"field": "v", "type": "quantitative", "scale": {"domain": [55050, 73350], "nice": false, "zero": false},
        "axis": {"title": "XBTUSD", "values": [60000, 65000, 70000], "tickCount": 10, "format": "~s", "grid": true, "labelPadding": 2, "titlePadding": 12, "labelOverlap": false}},
  "color": {"datum": "XBTUSD", "title": null,
            "scale": {"domain": ["XBTUSD", "Bitcointalk", "Reddit", "Twitter", "Sentiment Score"], "range": ["#ffffff", "#f2df3e", "#e8552c", "#3d9fe0", "#f3b558"]}}
 }},
{"data": {"name": "s"},
 "mark": {"type": "line", "strokeWidth": 1.5},
 "encoding": {
  "x": {"field": "d", "type": "temporal"},
  "y": {"field": "v", "type": "quantitative"},
  "color": {"datum": "Sentiment Score"}
 }}
]
},
{
"width": 611,
"height": 135,
"layer": [
{"data": {"name": "b"},
 "mark": {"type": "line", "strokeWidth": 1.5},
 "encoding": {
  "x": {"field": "d", "type": "temporal", "scale": {"type": "utc", "domain": [{"year": 2023, "month": 7, "date": 22, "utc": true}, {"year": 2024, "month": 7, "date": 20, "utc": true}]},
        "axis": {"format": "%b %Y", "title": null, "grid": true, "labelPadding": 2, "labelFlush": false, "labelOverlap": false, "tickCount": 20, "values": [{"year": 2023, "month": 9, "date": 1, "utc": true}, {"year": 2023, "month": 11, "date": 1, "utc": true}, {"year": 2024, "month": 1, "date": 1, "utc": true}, {"year": 2024, "month": 3, "date": 1, "utc": true}, {"year": 2024, "month": 5, "date": 1, "utc": true}, {"year": 2024, "month": 7, "date": 1, "utc": true}]}},
  "y": {"field": "v", "type": "quantitative", "scale": {"domain": [-0.05, 1.05], "nice": false, "zero": false},
        "axis": {"title": "Sources", "values": [0, 0.2, 0.4, 0.6, 0.8, 1], "tickCount": 10, "format": "~g", "grid": true, "labelPadding": 2, "titlePadding": 12, "labelOverlap": false}},
  "color": {"datum": "Bitcointalk"}
 }},
{"data": {"name": "r"},
 "mark": {"type": "line", "strokeWidth": 1.5},
 "encoding": {
  "x": {"field": "d", "type": "temporal"},
  "y": {"field": "v", "type": "quantitative"},
  "color": {"datum": "Reddit"}
 }},
{"data": {"name": "t"},
 "mark": {"type": "line", "strokeWidth": 1.5},
 "encoding": {
  "x": {"field": "d", "type": "temporal"},
  "y": {"field": "v", "type": "quantitative"},
  "color": {"datum": "Twitter"}
 }}
]
}
]
}
],
"config": {
 "view": {"stroke": null},
 "font": "Open Sans",
 "axis": {"domain": false, "ticks": false, "gridColor": "#5c5c5c", "gridWidth": 1, "labelColor": "#9a9a9a", "labelFontSize": 8.5, "labelFont": "Open Sans", "titleColor": "#a8a8a8", "titleFontSize": 9.5, "titleFontWeight": "normal", "titleFont": "Open Sans"},
 "legend": {"orient": "right", "offset": 14, "padding": 5, "labelColor": "#cccccc", "labelFontSize": 8.5, "labelFont": "Open Sans", "symbolType": "M-1.8,0H1.8", "symbolStrokeWidth": 2, "symbolSize": 100, "rowPadding": 0.7, "labelOffset": 8}
}
}
